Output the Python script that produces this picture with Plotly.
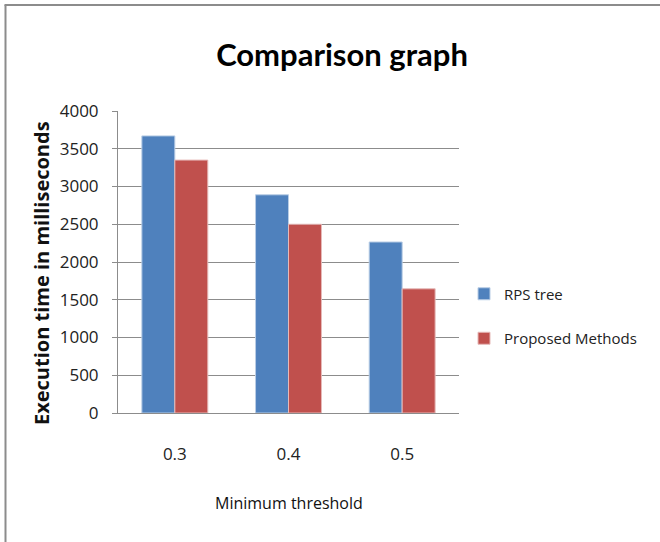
import plotly.graph_objects as go

categories = ["0.3", "0.4", "0.5"]
rps_tree = [3670, 2890, 2265]
proposed = [3350, 2500, 1645]
series_names = ["RPS tree", "Proposed Methods"]
y_ticks = [0, 500, 1000, 1500, 2000, 2500, 3000, 3500, 4000]

W, H = 660, 542
L, R, T, B = 118, 201, 111, 129
pw, ph = W - L - R, H - T - B

def px_x(p):
    return (p - L) / pw

def px_y(p):
    return (H - B - p) / ph

fig = go.Figure()
fig.add_trace(go.Bar(x=categories, y=rps_tree, name=series_names[0],
                     marker=dict(color="#4F81BD", line=dict(color="#B9CDE5", width=1)),
                     legendgroup="a"))
fig.add_trace(go.Bar(x=categories, y=proposed, name=series_names[1],
                     marker=dict(color="#C0504D", line=dict(color="#E6B9B8", width=1)),
                     legendgroup="b"))

fig.update_layout(
    width=W, height=H,
    margin=dict(l=L, r=R, t=T, b=B, autoexpand=False),
    paper_bgcolor="white", plot_bgcolor="white",
    barmode="group", bargap=0.42, bargroupgap=0,
    font=dict(family="Open Sans", color="#222"),
    title=dict(text="<b>Comparison graph</b>", x=342 / W, xanchor="center",
               y=1 - 55 / H, yanchor="middle",
               font=dict(family="Lato", size=31, color="black")),
    legend=dict(x=px_x(464), xanchor="left", y=px_y(316), yanchor="middle",
                font=dict(family="Open Sans", size=15, color="#222"),
                tracegroupgap=22, itemwidth=30, bgcolor="rgba(0,0,0,0)"),
    showlegend=True,
)

fig.update_yaxes(range=[0, 4000], tickvals=y_ticks, showgrid=True,
                 gridcolor="#8C8C8C", gridwidth=1, zeroline=False,
                 showline=True, linecolor="#8C8C8C", linewidth=1,
                 ticks="outside", ticklen=5, tickcolor="#8C8C8C",
                 ticklabelstandoff=10,
                 tickfont=dict(family="Open Sans", size=17, color="#222"))
fig.update_xaxes(showline=True, linecolor="#8C8C8C", linewidth=1,
                 ticks="", ticklabelstandoff=26,
                 tickfont=dict(family="Open Sans", size=17, color="#222"))

fig.add_annotation(text="<b>Execution time in milliseconds</b>", textangle=-90,
                   xref="paper", yref="paper", x=px_x(41), y=px_y(273),
                   xanchor="center", yanchor="middle",
                   showarrow=False, font=dict(family="Open Sans", size=20, color="#111"))
fig.add_annotation(text="Minimum threshold", xref="paper", yref="paper",
                   x=px_x(289), y=px_y(503), xanchor="center", yanchor="middle",
                   showarrow=False,
                   font=dict(family="Open Sans", size=16, color="#111"))

# outer chart frame (top and left edges visible)
fig.add_shape(type="line", xref="paper", yref="paper",
              x0=px_x(5.5), y0=px_y(560), x1=px_x(5.5), y1=px_y(5),
              line=dict(color="#8C8C8C", width=2))
fig.add_shape(type="line", xref="paper", yref="paper",
              x0=px_x(4.5), y0=px_y(5), x1=px_x(680), y1=px_y(5),
              line=dict(color="#8C8C8C", width=2))

fig.write_html("out.html", config={"displayModeBar": False},
               post_script="document.body.style.margin='0';document.body.style.overflow='hidden';")
